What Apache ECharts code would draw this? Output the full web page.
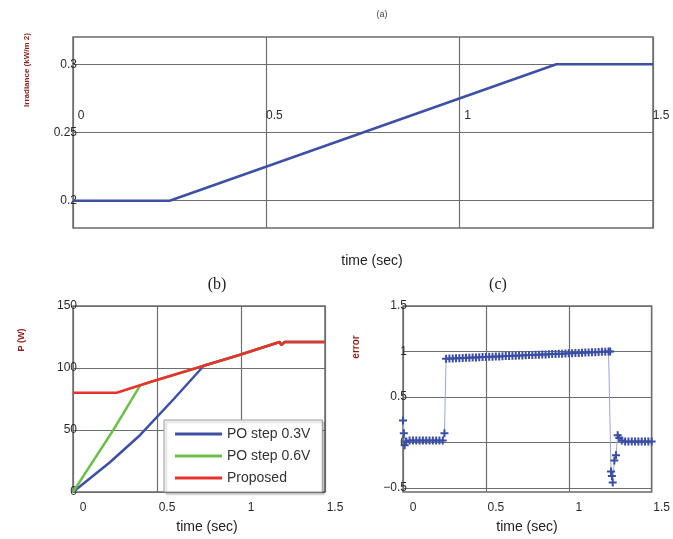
<!DOCTYPE html>
<html>
<head>
<meta charset="utf-8">
<script src="https://cdn.jsdelivr.net/npm/echarts@6/dist/echarts.min.js"></script>
<style>
html,body{margin:0;padding:0;background:#fff}
#chart{width:673px;height:539px}
</style>
</head>
<body>
<div id="chart"></div>
<script>
// (a) irradiance step
let aTime = [0, 0.25, 1.25, 1.5]
let aIrr = [0.2, 0.2, 0.3, 0.3]
let aTicks = [0.2, 0.25, 0.3]

// (b) power curves, [time, W]
let bNames = ['PO step 0.3V', 'PO step 0.6V', 'Proposed']
let bStep03 = [[0,0],[0.22,24],[0.4,46],[0.6,75],[0.78,102],[0.99,110.5],[1.23,121],[1.24,118.5],[1.26,121],[1.5,121]]
let bStep06 = [[0,0],[0.24,50],[0.4,86],[0.46,88.7],[0.99,110.5],[1.23,121],[1.24,118.5],[1.26,121],[1.5,121]]
let bProposed = [[0,80],[0.26,80],[0.46,88.7],[0.99,110.5],[1.23,121],[1.24,118.5],[1.26,121],[1.5,121]]

// (c) error signal, [time, value]
let cErr = [
  [0,0.24],[0.005,0.1],[0.01,-0.03],[0.02,0.01],[0.04,0.02],[0.06,0.02],[0.08,0.02],[0.1,0.02],
  [0.12,0.02],[0.14,0.02],[0.16,0.02],[0.18,0.02],[0.2,0.02],[0.22,0.02],[0.24,0.02],[0.25,0.1],
  [0.26,0.92],[0.28,0.922],[0.3,0.923],[0.32,0.925],[0.34,0.926],[0.36,0.928],[0.38,0.93],[0.4,0.931],
  [0.42,0.933],[0.44,0.934],[0.46,0.936],[0.48,0.938],[0.5,0.939],[0.52,0.941],[0.54,0.942],[0.56,0.944],
  [0.58,0.946],[0.6,0.947],[0.62,0.949],[0.64,0.951],[0.66,0.952],[0.68,0.954],[0.7,0.955],[0.72,0.957],
  [0.74,0.959],[0.76,0.96],[0.78,0.962],[0.8,0.963],[0.82,0.965],[0.84,0.967],[0.86,0.968],[0.88,0.97],
  [0.9,0.972],[0.92,0.973],[0.94,0.975],[0.96,0.976],[0.98,0.978],[1.0,0.98],[1.02,0.981],[1.04,0.983],
  [1.06,0.984],[1.08,0.986],[1.1,0.988],[1.12,0.989],[1.14,0.991],[1.16,0.992],[1.18,0.994],[1.2,0.996],
  [1.22,0.997],[1.24,0.999],[1.25,1.0],
  [1.255,-0.32],[1.26,-0.37],[1.265,-0.44],[1.275,-0.2],[1.285,-0.14],[1.295,0.08],[1.305,0.05],[1.32,0.02],
  [1.34,0.01],[1.36,0.01],[1.38,0.01],[1.4,0.01],[1.42,0.01],[1.44,0.01],[1.46,0.01],[1.48,0.01],[1.5,0.01]
]
let cTicks = [-0.5, 0, 0.5, 1, 1.5]

let lblColor = '#2a2a2a'
let gridLine = {show: true, lineStyle: {color: '#6e6e6e', width: 1.2}}
let gridBox = {show: true, borderColor: '#6b6b6b', borderWidth: 1.5, backgroundColor: 'transparent'}

function xAxisFor(idx, extra) {
  return Object.assign({
    type: 'value', gridIndex: idx, min: 0, max: 1.5, interval: 0.5,
    axisLine: {show: false}, axisTick: {show: false}, splitLine: gridLine,
    axisLabel: {color: lblColor, fontSize: 12, fontFamily: 'Liberation Sans', margin: 10, padding: [0,0,0,20]}
  }, extra || {})
}

let chart = echarts.init(document.getElementById('chart'))
chart.setOption({
  animation: false,
  grid: [
    Object.assign({left: 73, top: 37, width: 580, height: 191}, gridBox),
    Object.assign({left: 73, top: 306, width: 252, height: 186}, gridBox),
    Object.assign({left: 403, top: 306, width: 250, height: 186}, gridBox)
  ],
  xAxis: [
    xAxisFor(0, {offset: -118, axisLabel: {color: lblColor, fontSize: 12, fontFamily: 'Liberation Sans', margin: 0, padding: [0,0,0,16]}}),
    xAxisFor(1),
    xAxisFor(2)
  ],
  yAxis: [
    {
      type: 'value', gridIndex: 0, min: 0.18, max: 0.32,
      axisLine: {show: false},
      axisTick: {show: false, customValues: aTicks},
      splitLine: gridLine,
      axisLabel: {customValues: aTicks, color: lblColor, fontSize: 12, fontFamily: 'Liberation Sans', margin: -4}
    },
    {
      type: 'value', gridIndex: 1, min: 0, max: 150, interval: 50,
      axisLine: {show: false}, axisTick: {show: false}, splitLine: gridLine,
      axisLabel: {color: lblColor, fontSize: 12, fontFamily: 'Liberation Sans', margin: -4}
    },
    {
      type: 'value', gridIndex: 2, min: -0.545, max: 1.5,
      axisLine: {show: false},
      axisTick: {show: false, customValues: cTicks},
      splitLine: gridLine,
      axisLabel: {customValues: cTicks, color: lblColor, fontSize: 12, fontFamily: 'Liberation Sans', margin: -4,
        formatter: v => String(v).replace('-', '\u2212')}
    }
  ],
  legend: {
    data: bNames,
    orient: 'vertical',
    left: 164, top: 420,
    padding: [7, 12, 7, 11],
    itemGap: 8,
    itemWidth: 47, itemHeight: 3,
    icon: 'rect',
    backgroundColor: '#fff',
    borderColor: '#9a9a9a', borderWidth: 1,
    shadowColor: 'rgba(0,0,0,0.25)', shadowOffsetX: 2, shadowOffsetY: 2, shadowBlur: 2,
    textStyle: {color: '#333', fontSize: 14, fontFamily: 'Liberation Sans'}
  },
  series: [
    {
      type: 'line', xAxisIndex: 0, yAxisIndex: 0, symbol: 'none',
      lineStyle: {color: '#3d50a5', width: 2.5},
      data: aTime.map((t, i) => [t, aIrr[i]])
    },
    {
      name: bNames[0], type: 'line', xAxisIndex: 1, yAxisIndex: 1, symbol: 'none',
      color: '#3d50a5', lineStyle: {width: 2.5}, data: bStep03
    },
    {
      name: bNames[1], type: 'line', xAxisIndex: 1, yAxisIndex: 1, symbol: 'none',
      color: '#6cc04a', lineStyle: {width: 2.5}, data: bStep06
    },
    {
      name: bNames[2], type: 'line', xAxisIndex: 1, yAxisIndex: 1, symbol: 'none',
      color: '#e8322c', lineStyle: {width: 2.5}, data: bProposed
    },
    {
      type: 'line', xAxisIndex: 2, yAxisIndex: 2,
      symbol: 'path://M3,0H5V3H8V5H5V8H3V5H0V3H3Z', symbolSize: 8, showAllSymbol: true,
      itemStyle: {color: '#3b4ea6'},
      lineStyle: {color: '#9aa6d6', width: 1},
      data: cErr
    }
  ],
  graphic: [
    {type: 'text', x: 382, y: 15, style: {text: '(a)', font: '9px "Liberation Sans"', fill: '#444', align: 'center', verticalAlign: 'middle'}},
    {type: 'text', x: 217, y: 285, style: {text: '(b)', font: '16px "Liberation Serif"', fill: '#222', align: 'center', verticalAlign: 'middle'}},
    {type: 'text', x: 498, y: 285, style: {text: '(c)', font: '16px "Liberation Serif"', fill: '#222', align: 'center', verticalAlign: 'middle'}},
    {type: 'text', x: 372, y: 261, style: {text: 'time (sec)', font: '14px "Liberation Sans"', fill: '#222', align: 'center', verticalAlign: 'middle'}},
    {type: 'text', x: 207, y: 527, style: {text: 'time (sec)', font: '14px "Liberation Sans"', fill: '#222', align: 'center', verticalAlign: 'middle'}},
    {type: 'text', x: 527, y: 527, style: {text: 'time (sec)', font: '14px "Liberation Sans"', fill: '#222', align: 'center', verticalAlign: 'middle'}},
    {type: 'text', x: 27, y: 70, rotation: Math.PI / 2, style: {text: 'Irradiance (kW/m 2)', font: 'bold 8px "Liberation Sans"', fill: '#8b1e1a', align: 'center', verticalAlign: 'middle'}},
    {type: 'text', x: 22, y: 340, rotation: Math.PI / 2, style: {text: 'P (W)', font: 'bold 9px "Liberation Sans"', fill: '#8b1e1a', align: 'center', verticalAlign: 'middle'}},
    {type: 'text', x: 356, y: 347, rotation: Math.PI / 2, style: {text: 'error', font: 'bold 10px "Liberation Sans"', fill: '#8b1e1a', align: 'center', verticalAlign: 'middle'}}
  ]
})
</script>
</body>
</html>
